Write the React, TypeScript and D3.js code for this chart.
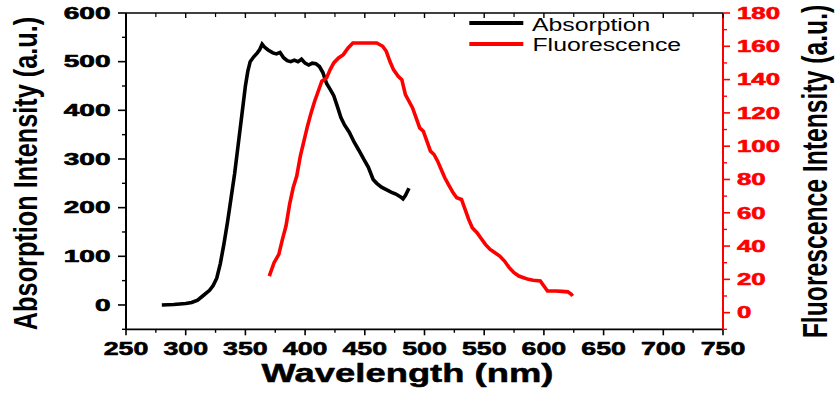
import React from "react";
import * as d3 from "d3";

// Absorption spectrum (wavelength nm, intensity a.u.)
const absWavelength = [280, 290, 300, 305, 310, 315, 320, 323, 326, 329, 332, 335, 338, 341, 344, 347, 350, 352, 354, 357, 360, 362, 364, 366, 369, 373, 376, 379, 382, 385, 388, 391, 394, 397, 400, 403, 406, 409, 412, 415, 418, 421, 424, 427, 430, 433, 437, 441, 445, 449, 453, 457, 460, 464, 468, 472, 476, 480, 482, 484, 487];
const absIntensity = [0, 1, 3, 5, 10, 20, 30, 40, 55, 85, 125, 170, 220, 270, 330, 390, 450, 480, 500, 510, 518, 525, 536, 530, 524, 518, 516, 519, 508, 502, 500, 503, 500, 505, 497, 493, 497, 496, 490, 477, 455, 443, 430, 408, 385, 370, 355, 335, 318, 300, 283, 258, 250, 242, 237, 232, 228, 222, 218, 225, 240];

// Fluorescence spectrum (wavelength nm, intensity a.u.)
const fluWavelength = [370, 374, 378, 381, 384, 387, 390, 393, 396, 399, 402, 405, 408, 411, 414, 418, 421, 424, 428, 432, 436, 440, 460, 465, 468, 471, 474, 478, 481, 484, 487, 490, 493, 496, 499, 502, 505, 508, 511, 514, 517, 520, 524, 527, 531, 534, 537, 540, 544, 547, 551, 555, 559, 563, 567, 571, 575, 579, 583, 587, 591, 597, 600, 603, 610, 615, 620, 623, 624];
const fluIntensity = [22, 30, 35, 44, 52, 65, 75, 82, 94, 103, 112, 120, 127, 133, 139, 141, 146, 150, 153, 155, 159, 162, 162, 160, 157, 151, 146, 142, 140, 131, 127, 123, 117, 111, 109, 103, 97, 95, 91, 86, 81, 77, 72, 69, 68, 62, 56, 51, 48, 45, 41, 38, 36, 34, 31, 27, 24, 22, 21, 20, 19.5, 19, 16, 13, 13, 12.8, 12.5, 11, 10];

const xMajorTicks = [250, 300, 350, 400, 450, 500, 550, 600, 650, 700, 750];
const leftMajorTicks = [0, 100, 200, 300, 400, 500, 600];
const rightMajorTicks = [0, 20, 40, 60, 80, 100, 120, 140, 160, 180];

const seriesNames = ["Absorption", "Fluorescence"];
const xTitle = "Wavelength (nm)";
const leftTitle = "Absorption Intensity (a.u.)";
const rightTitle = "Fluorescence Intensity (a.u.)";

const W = 837;
const H = 394;
const plot = { left: 126, right: 723, top: 13, bottom: 329.3 };
const FONT = "'Liberation Sans', Arial, sans-serif";
const RED = "#ff0000";

type STextProps = {
  x: number;
  y: number;
  sx?: number;
  sy?: number;
  rot?: number;
  anchor?: "start" | "middle" | "end";
  size: number;
  weight?: string | number;
  fill?: string;
  heavy?: number;
  children: React.ReactNode;
};

// Text drawn in a local frame so that it can be stretched along/against its direction
function SText({ x, y, sx = 1, sy = 1, rot = 0, anchor = "start", size, weight = "normal", fill = "#000", heavy = 0, children }: STextProps) {
  return (
    <text
      transform={`translate(${x},${y}) rotate(${rot}) scale(${sx},${sy})`}
      textAnchor={anchor}
      fontFamily={FONT}
      fontSize={size}
      fontWeight={weight}
      fill={fill}
      stroke={heavy > 0 ? fill : "none"}
      strokeWidth={heavy}
      strokeLinejoin="round"
    >
      {children}
    </text>
  );
}

export default function App() {
  const x = d3.scaleLinear().domain([250, 750]).range([plot.left, plot.right]);
  const yL = d3.scaleLinear().domain([-50, 600]).range([plot.bottom, plot.top]);
  const yR = d3.scaleLinear().domain([-10, 180]).range([plot.bottom, plot.top]);

  const xMinor = d3.range(275, 750, 50);
  const leftMinor = d3.range(-50, 600, 100);
  const rightMinor = d3.range(-10, 180, 20);

  const absPts: [number, number][] = absWavelength.map((w, i) => [w, absIntensity[i]]);
  const fluPts: [number, number][] = fluWavelength.map((w, i) => [w, fluIntensity[i]]);

  const absLine = d3.line<[number, number]>().x((d) => x(d[0])).y((d) => yL(d[1]));
  const fluLine = d3.line<[number, number]>().x((d) => x(d[0])).y((d) => yR(d[1]));

  const yTickSize = 16.3;
  const xTickSize = 18.6;

  return (
    <svg width={W} height={H} viewBox={`0 0 ${W} ${H}`} style={{ position: "absolute", left: 0, top: 0, background: "#fff" }}>
      <rect x={0} y={0} width={W} height={H} fill="#fff" />

      {/* curves */}
      <path d={absLine(absPts) ?? ""} fill="none" stroke="#000" strokeWidth={3.6} strokeLinejoin="miter" />
      <path d={fluLine(fluPts) ?? ""} fill="none" stroke={RED} strokeWidth={3.6} strokeLinejoin="miter" />

      {/* frame */}
      <line x1={plot.left} x2={plot.right} y1={plot.top} y2={plot.top} stroke="#000" strokeWidth={1.6} />
      <line x1={plot.left} x2={plot.right} y1={plot.bottom} y2={plot.bottom} stroke="#000" strokeWidth={1.8} />
      <line x1={plot.left} x2={plot.left} y1={plot.top} y2={plot.bottom} stroke="#000" strokeWidth={2} />
      <line x1={plot.right} x2={plot.right} y1={plot.top} y2={plot.bottom} stroke={RED} strokeWidth={2} />

      {/* bottom axis ticks (outward) and top ticks (inward) */}
      {xMajorTicks.map((t) => (
        <g key={`xm${t}`}>
          <line x1={x(t)} x2={x(t)} y1={plot.bottom} y2={plot.bottom + 6} stroke="#000" strokeWidth={1.6} />
          <line x1={x(t)} x2={x(t)} y1={plot.top} y2={plot.top + 5} stroke="#000" strokeWidth={1.4} />
        </g>
      ))}
      {xMinor.map((t) => (
        <g key={`xn${t}`}>
          <line x1={x(t)} x2={x(t)} y1={plot.bottom} y2={plot.bottom + 3.5} stroke="#000" strokeWidth={1.4} />
          <line x1={x(t)} x2={x(t)} y1={plot.top} y2={plot.top + 4} stroke="#000" strokeWidth={1.2} />
        </g>
      ))}

      {/* left axis ticks */}
      {leftMajorTicks.map((t) => (
        <line key={`lm${t}`} x1={plot.left - 8} x2={plot.left} y1={yL(t)} y2={yL(t)} stroke="#000" strokeWidth={1.6} />
      ))}
      {leftMinor.map((t) => (
        <line key={`ln${t}`} x1={plot.left - 4} x2={plot.left} y1={yL(t)} y2={yL(t)} stroke="#000" strokeWidth={1.4} />
      ))}

      {/* right axis ticks */}
      {rightMajorTicks.map((t) => (
        <line key={`rm${t}`} x1={plot.right} x2={plot.right + 7} y1={yR(t)} y2={yR(t)} stroke={RED} strokeWidth={1.6} />
      ))}
      {rightMinor.map((t) => (
        <line key={`rn${t}`} x1={plot.right} x2={plot.right + 4} y1={yR(t)} y2={yR(t)} stroke={RED} strokeWidth={1.4} />
      ))}

      {/* tick labels */}
      {xMajorTicks.map((t) => (
        <SText key={`xl${t}`} x={x(t)} y={355} sx={1.44} anchor="middle" size={xTickSize} weight="bold" heavy={0.6}>
          {t}
        </SText>
      ))}
      {leftMajorTicks.map((t) => (
        <SText key={`ll${t}`} x={110.5} y={yL(t) + yTickSize * 0.358} sx={1.72} anchor="end" size={yTickSize} weight="bold" heavy={0.6}>
          {t}
        </SText>
      ))}
      {rightMajorTicks.map((t) => (
        <SText key={`rl${t}`} x={737} y={yR(t) + yTickSize * 0.358} sx={1.58} anchor="start" size={yTickSize} weight="bold" fill={RED} heavy={0.6}>
          {t}
        </SText>
      ))}

      {/* axis titles */}
      <SText x={407.5} y={381.7} sx={1.4} anchor="middle" size={26} weight="bold" heavy={0.5}>
        {xTitle}
      </SText>
      <SText x={36.7} y={173.5} rot={-90} sy={1.29} anchor="middle" size={25.3} weight="bold">
        {leftTitle}
      </SText>
      <SText x={827} y={171.5} rot={-90} sy={1.42} anchor="middle" size={24.7} weight="bold">
        {rightTitle}
      </SText>

      {/* legend */}
      <line x1={469.3} x2={523.3} y1={23} y2={23} stroke="#000" strokeWidth={4} />
      <line x1={469.3} x2={523.3} y1={44} y2={44} stroke={RED} strokeWidth={4} />
      <SText x={532} y={30.7} sx={1.4} size={17.7}>
        {seriesNames[0]}
      </SText>
      <SText x={532.5} y={50.7} sx={1.4} size={17.7}>
        {seriesNames[1]}
      </SText>
    </svg>
  );
}
